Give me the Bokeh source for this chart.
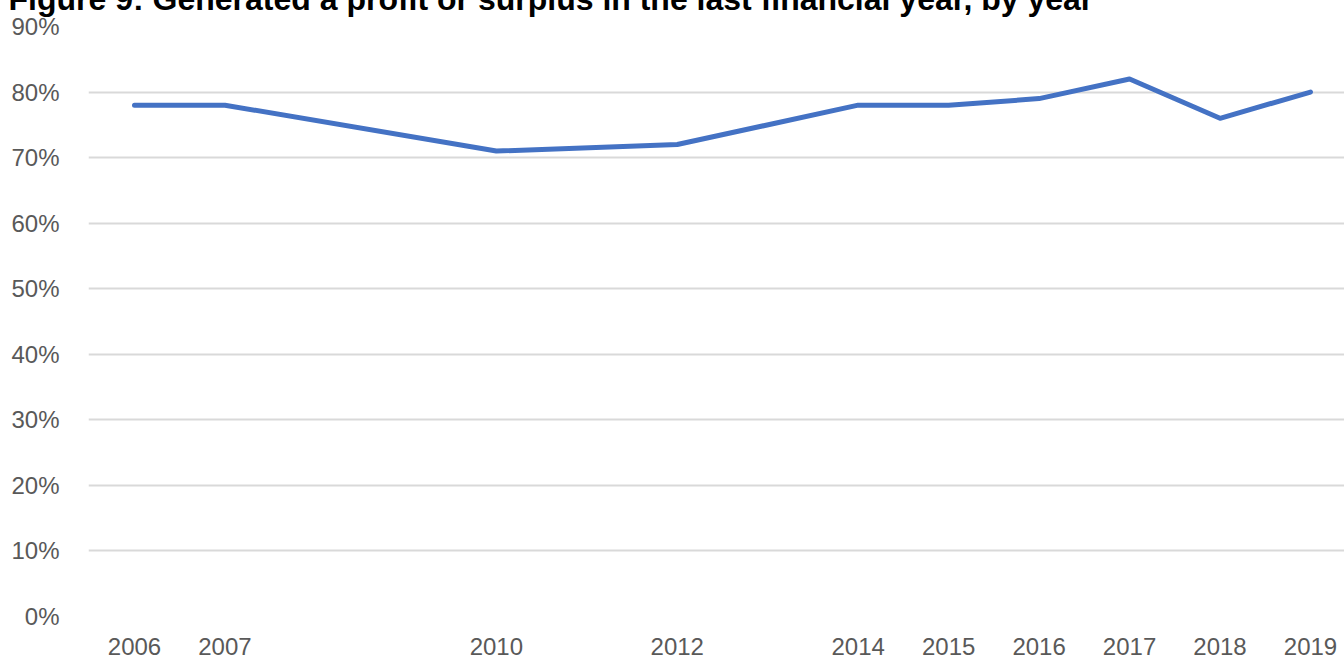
from bokeh.plotting import figure
from bokeh.models import FixedTicker, PrintfTickFormatter, Range1d, Title
from bokeh.embed import file_html
from bokeh.resources import INLINE

years = [2006, 2007, 2010, 2012, 2014, 2015, 2016, 2017, 2018, 2019]
profit_pct = [78, 78, 71, 72, 78, 78, 79, 82, 76, 80]
y_ticks = [0, 10, 20, 30, 40, 50, 60, 70, 80, 90]
title_text = "Figure 9: Generated a profit or surplus in the last financial year, by year"

p = figure(width=1344, height=659, output_backend="svg", toolbar_location=None,
           x_range=Range1d(2005.4915, 2019.376), y_range=Range1d(0, 90),
           min_border_left=88, min_border_right=0, min_border_top=26, min_border_bottom=43)

p.line(years, profit_pct, line_color="#4472C4", line_width=5, line_join="round", line_cap="round")

p.outline_line_color = None
p.xgrid.grid_line_color = None
p.ygrid.grid_line_color = "#d9d9d9"
p.ygrid.grid_line_width = 2

p.yaxis.ticker = FixedTicker(ticks=y_ticks)
p.yaxis.formatter = PrintfTickFormatter(format="%d%%")
p.xaxis.ticker = FixedTicker(ticks=years)
p.xaxis.formatter = PrintfTickFormatter(format="%d")
for ax in (p.xaxis, p.yaxis):
    ax.axis_line_color = None
    ax.major_tick_line_color = None
    ax.minor_tick_line_color = None
    ax.major_label_text_font = "Liberation Sans"
    ax.major_label_text_font_size = "24px"
    ax.major_label_text_color = "#595959"
p.yaxis.major_label_standoff = 23
p.xaxis.major_label_standoff = 15

# the title sits partly above the top edge, as in the reference (second line is blank)
p.add_layout(Title(text=title_text + "\n\u00a0", text_font="Liberation Sans", text_font_style="bold",
                   text_font_size="32px", text_color="#000000", align="left",
                   vertical_align="bottom", offset=-80, standoff=-53), "above")

open("out.html", "w").write(file_html(p, INLINE))
